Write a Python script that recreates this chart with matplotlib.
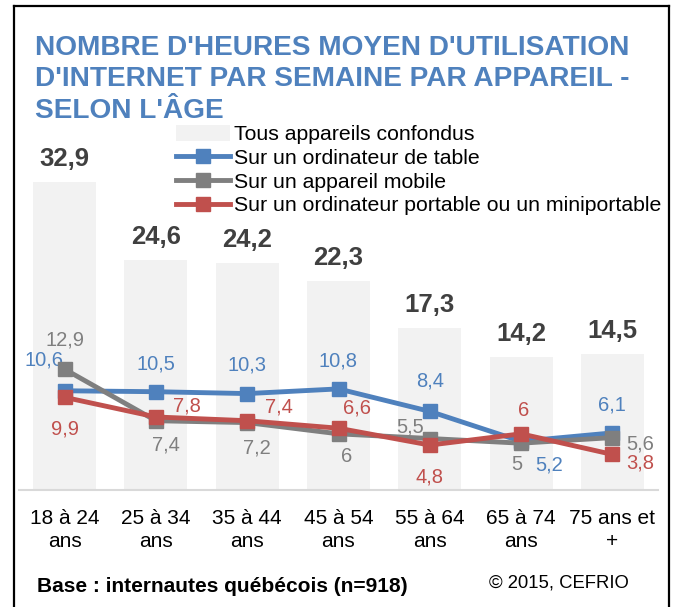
import numpy as np
import matplotlib
matplotlib.use("Agg")
import matplotlib.pyplot as plt
from matplotlib.lines import Line2D
from matplotlib.patches import Patch

plt.rcParams['font.family'] = ['Liberation Sans', 'DejaVu Sans']

# ---- data ----
ages = ["18 à 24\nans", "25 à 34\nans", "35 à 44\nans", "45 à 54\nans",
        "55 à 64\nans", "65 à 74\nans", "75 ans et\n+"]
total = [32.9, 24.6, 24.2, 22.3, 17.3, 14.2, 14.5]
desktop = [10.6, 10.5, 10.3, 10.8, 8.4, 5.2, 6.1]
mobile = [12.9, 7.4, 7.2, 6.0, 5.5, 5.0, 5.6]
laptop = [9.9, 7.8, 7.4, 6.6, 4.8, 6.0, 3.8]

series_names = ["Sur un ordinateur de table", "Sur un appareil mobile",
                "Sur un ordinateur portable ou un miniportable"]
bar_name = "Tous appareils confondus"

# ---- styles ----
BLUE = '#4F81BD'
GRAY = '#7F7F7F'
RED = '#C0504D'
BAR = '#F2F2F2'

# label offsets in pixels (dx, dy) for each point
off_desktop = [(-21, 31), (0, 28), (0, 29), (0, 28), (0, 30), (28, -24), (0, 28)]
off_mobile = [(0, 29), (10, -24), (10, -25), (8, -23), (-20, 12), (-4, -21), (28, -6)]
off_laptop = [(0, -32), (31, 11), (32, 14), (18, 20), (0, -32), (3, 23), (28, -9)]


def fmt(v):
    s = "%g" % v
    return s.replace('.', ',')


W, H = 676, 607
fig = plt.figure(figsize=(W / 100, H / 100), dpi=100)

ax = fig.add_axes([19 / W, (H - 490) / H, 639 / W, 337 / H])
x = np.arange(len(ages))
ax.bar(x, total, width=0.69, color=BAR, zorder=1)
ax.set_xlim(-0.5, 6.5)
ax.set_ylim(0, 36)

for xi, v in zip(x, total):
    ax.annotate(fmt(v), (xi, v), xytext=(0, 11), textcoords='offset pixels',
                ha='center', va='bottom', fontsize=18.5, fontweight='bold',
                color='#404040')

for vals, col, offs, z in [(desktop, BLUE, off_desktop, 3),
                           (mobile, GRAY, off_mobile, 4),
                           (laptop, RED, off_laptop, 5)]:
    ax.plot(x, vals, color=col, lw=3.5, marker='s', markersize=10.5, zorder=z)
    for xi, v, (dx, dy) in zip(x, vals, offs):
        ax.annotate(fmt(v), (xi, v), xytext=(dx, dy), textcoords='offset pixels',
                    ha='center', va='center', fontsize=14.5, color=col)

for s in ['top', 'left', 'right']:
    ax.spines[s].set_visible(False)
ax.spines['bottom'].set_color('#D9D9D9')
ax.spines['bottom'].set_linewidth(1.5)
ax.set_yticks([])
ax.set_xticks(x)
ax.set_xticklabels(ages, fontsize=15, linespacing=1.25)
ax.tick_params(axis='x', length=0, pad=14)

# legend
handles = [Patch(facecolor=BAR, edgecolor='none'),
           Line2D([], [], color=BLUE, lw=3.5, marker='s', markersize=10.5),
           Line2D([], [], color=GRAY, lw=3.5, marker='s', markersize=10.5),
           Line2D([], [], color=RED, lw=3.5, marker='s', markersize=10.5)]
fig.legend(handles, [bar_name] + series_names, loc='upper left',
           bbox_to_anchor=(176 / W, 1 - 125 / H), frameon=False, fontsize=15.3,
           borderpad=0, borderaxespad=0, handlelength=2.55, handleheight=0.75,
           handletextpad=0.2, labelspacing=0.21, numpoints=1)

# title
title_lines = ["NOMBRE D'HEURES MOYEN D'UTILISATION",
               "D'INTERNET PAR SEMAINE PAR APPAREIL -",
               "SELON L'ÂGE"]
for i, t in enumerate(title_lines):
    fig.text(35 / W, 1 - (55 + 31.5 * i) / H, t, fontsize=20.2, fontweight='bold',
             color=BLUE, va='baseline', ha='left')

fig.text(37 / W, 1 - 587 / H, "Base : internautes québécois (n=918)",
         fontsize=15, fontweight='bold', va='center', ha='left')
fig.text(489 / W, 1 - 583 / H, "© 2015, CEFRIO", fontsize=13.3, va='center',
         ha='left')

# frame
for xs, ys in [([13.5, 13.5], [0, 601]), ([13.5, 669], [601, 601]),
               ([669, 669], [601, 0])]:
    fig.add_artist(Line2D([v / W for v in xs], [v / H for v in ys],
                          color='black', lw=1.6))

fig.savefig("out.png", dpi=100)
